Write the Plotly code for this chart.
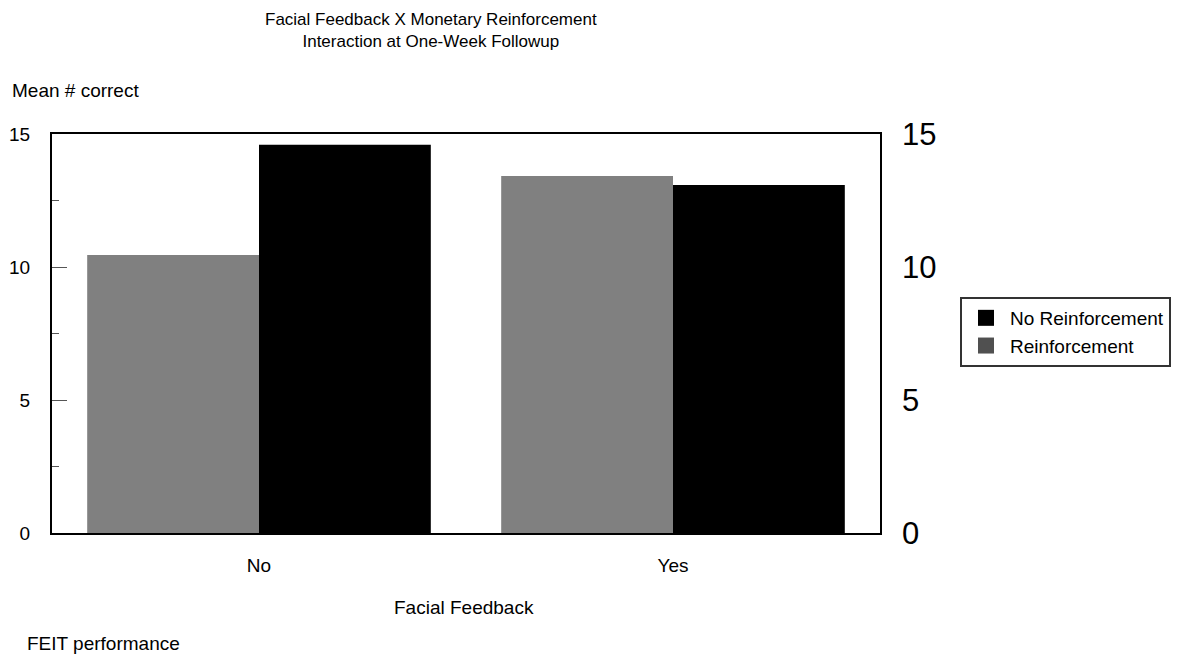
import plotly.graph_objects as go

categories = ["No", "Yes"]
reinforcement = [10.45, 13.42]
no_reinforcement = [14.6, 13.08]
y_ticks = [0, 5, 10, 15]

FONT = "Liberation Sans, Arial, sans-serif"

fig = go.Figure()
fig.add_trace(go.Bar(x=categories, y=reinforcement, name="Reinforcement",
                     marker=dict(color="#808080", line=dict(width=0)), showlegend=False))
fig.add_trace(go.Bar(x=categories, y=no_reinforcement, name="No Reinforcement",
                     marker=dict(color="#000000", line=dict(width=0)), showlegend=False))
# legend entries
fig.add_trace(go.Scatter(x=[None], y=[None], mode="markers", name="No Reinforcement",
                         marker=dict(symbol="square", size=16, color="#000000")))
fig.add_trace(go.Scatter(x=[None], y=[None], mode="markers", name="Reinforcement",
                         marker=dict(symbol="square", size=16, color="#505050")))
# invisible trace for right axis
fig.add_trace(go.Scatter(x=[None], y=[None], yaxis="y2", showlegend=False, hoverinfo="skip"))

fig.update_layout(
    width=1179, height=655,
    margin=dict(l=44, r=307, t=126, b=130, autoexpand=False),
    paper_bgcolor="white", plot_bgcolor="white",
    font=dict(family=FONT, color="#000000", size=19),
    barmode="group", bargap=0.17, bargroupgap=0,
    showlegend=True,
    legend=dict(x=1.0966, y=0.5038, xanchor="left", yanchor="middle",
                bordercolor="#333333", borderwidth=2, bgcolor="white",
                font=dict(size=19, family=FONT), tracegroupgap=0,
                itemsizing="trace", itemwidth=38),
    xaxis=dict(range=[-0.5, 1.5], showline=True, linecolor="#000000", linewidth=2,
               mirror=True, ticks="", showgrid=False, zeroline=False, automargin=False,
               tickfont=dict(size=19), ticklabelstandoff=14),
    yaxis=dict(range=[0, 15], tickvals=y_ticks, showline=True, linecolor="#000000",
               linewidth=2, mirror=True, ticks="inside", ticklen=15, tickcolor="#555555",
               tickwidth=1, showgrid=False, zeroline=False, tickfont=dict(size=19),
               ticklabelstandoff=16, automargin=False,
               minor=dict(dtick=2.5, ticks="inside", ticklen=7, tickcolor="#555555",
                          showgrid=False)),
    yaxis2=dict(range=[0, 15], tickvals=y_ticks, overlaying="y", side="right",
                showline=False, ticks="", showgrid=False, zeroline=False, automargin=False,
                tickfont=dict(size=31), ticklabelstandoff=21),
    annotations=[
        dict(text="Facial Feedback X Monetary Reinforcement<br>Interaction at One-Week Followup",
             xref="paper", yref="paper", x=0.4577, y=1.0, yshift=103.5, xanchor="center",
             yanchor="middle", showarrow=False, font=dict(size=17)),
        dict(text="Mean # correct", xref="paper", yref="paper", x=0, xshift=-42,
             y=1.0, yshift=44, xanchor="left", yanchor="middle", showarrow=False,
             font=dict(size=19)),
        dict(text="Facial Feedback", xref="paper", yref="paper", x=0.4976, y=0,
             yshift=-74, xanchor="center", yanchor="middle", showarrow=False,
             font=dict(size=19)),
        dict(text="FEIT performance", xref="paper", yref="paper", x=0, xshift=-27,
             y=0, yshift=-110, xanchor="left", yanchor="middle", showarrow=False,
             font=dict(size=19)),
    ],
)

fig.write_html("out.html")
